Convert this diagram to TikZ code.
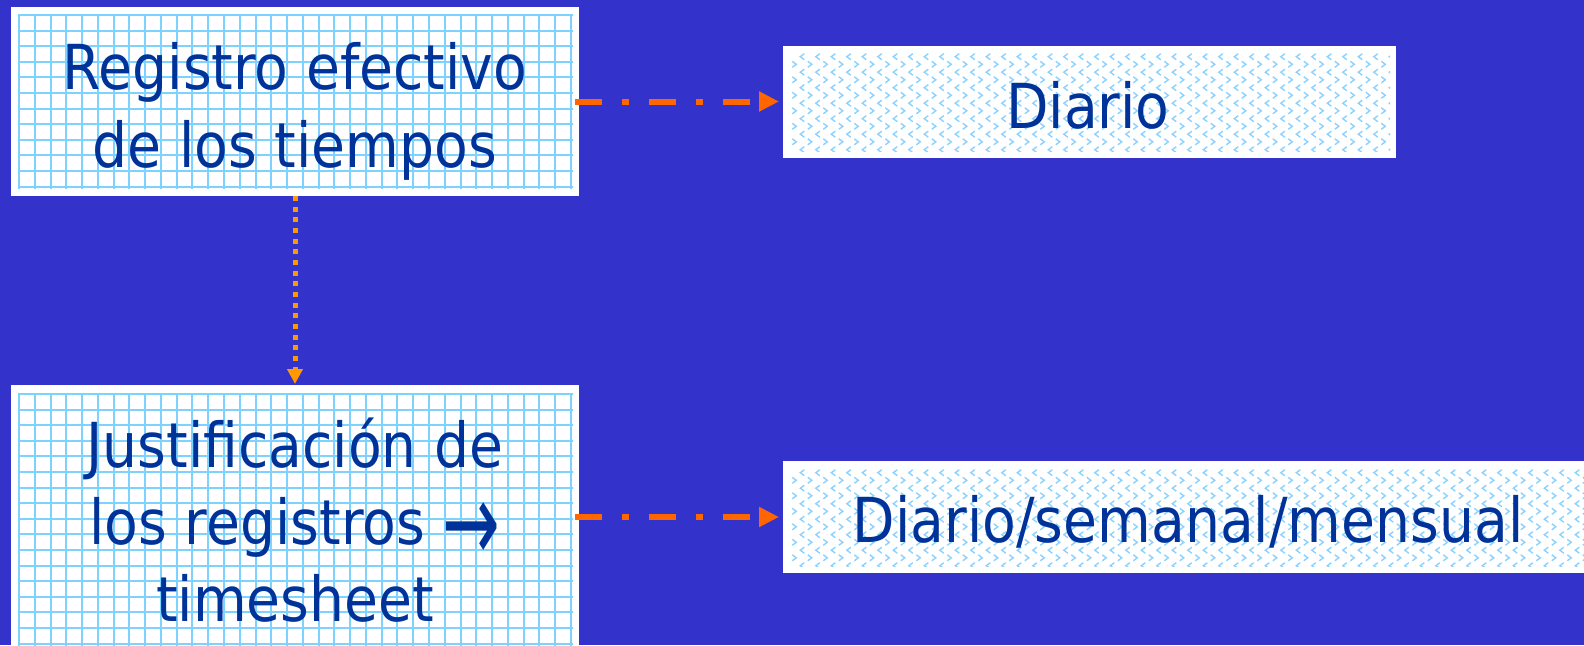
\documentclass[tikz,border=0pt]{standalone}
\usepackage{fontspec}
\setmainfont{DejaVu Sans}[FakeStretch=0.89]
\usetikzlibrary{arrows.meta}
\definecolor{bgblue}{RGB}{51,51,204}
\definecolor{txtblue}{RGB}{0,51,153}
\definecolor{gridc}{RGB}{125,210,255}
\definecolor{chevc}{RGB}{140,210,255}
\definecolor{arrowred}{RGB}{255,102,0}
\definecolor{arroworange}{RGB}{255,153,0}
\newcommand{\bigarrowglyph}{\raisebox{-17.3pt}[47pt][0pt]{\scalebox{1.25}[1.8]{→}}}
\begin{document}
\begin{tikzpicture}[x=1pt,y=-1pt,
  box/.style={fill=white, draw=none, inner sep=0pt, outer sep=0pt},
  txt/.style={text=txtblue, font=\fontsize{62}{78}\selectfont, align=center, inner sep=0pt, anchor=base},
  dashdot/.style={arrowred, line width=6pt, dash pattern=on 27pt off 20pt on 7pt off 20pt, -{Triangle[length=20pt,width=19pt]}},
  dotarrow/.style={arroworange, line width=5pt, dash pattern=on 5pt off 5.67pt, -{Triangle[length=15pt,width=15pt]}},
  gridline/.style={gridc, line width=2pt},
  chev/.style={chevc, line width=1.4pt}]
\useasboundingbox (0,0) rectangle (1584,645);
\fill[bgblue] (0,0) rectangle (1584,645);
% boxes
\node[box, minimum width=568pt, minimum height=189pt] (boxA) at (295,101.5) {};
\node[box, minimum width=613pt, minimum height=112pt] (boxB) at (1089.5,102) {};
\node[box, minimum width=568pt, minimum height=282pt] (boxC) at (295,526) {};
\node[box, minimum width=810pt, minimum height=112pt] (boxD) at (1188,517) {};
% grid in box A
\begin{scope}
\clip (18,14) rectangle (573,188);
\foreach \i in {0,...,35} \draw[gridline] ({19+15.77*\i},10) -- ({19+15.77*\i},190);
\foreach \j in {0,...,11} \draw[gridline] (15,{15+15.6*\j}) -- (575,{15+15.6*\j});
\end{scope}
% grid in box C
\begin{scope}
\clip (18,393) rectangle (573,650);
\foreach \i in {0,...,35} \draw[gridline] ({19+15.77*\i},390) -- ({19+15.77*\i},650);
\foreach \j in {0,...,16} \draw[gridline] (15,{394+15.6*\j}) -- (575,{394+15.6*\j});
\end{scope}
% chevrons in box B
\begin{scope}
\clip (790,52) rectangle (1390,151);
\draw[chev] \foreach \i in {0,...,39} {\foreach \j in {0,...,6} {
  ({804.3+15.5*\i},{53.7+15.5*\j}) -- ++(-4,3) -- ++(4,3)
  ({792.3+15.5*\i},{61.3+15.5*\j}) -- ++(4,3) -- ++(-4,3) }};
\end{scope}
% chevrons in box D
\begin{scope}
\clip (790,468) rectangle (1590,566);
\draw[chev] \foreach \i in {0,...,52} {\foreach \j in {0,...,6} {
  ({804.3+15.5*\i},{469.7+15.5*\j}) -- ++(-4,3) -- ++(4,3)
  ({792.3+15.5*\i},{477.3+15.5*\j}) -- ++(4,3) -- ++(-4,3) }};
\end{scope}
% texts (base anchor = baseline of last line)
\node[txt] (tA) at (295,167) {Registro efectivo\\de los tiempos};
\node[txt] (tB) at (1088,128) {Diario};
\node[txt, font=\fontsize{62}{77}\selectfont] (tC) at (295,621) {Justificación de\\los registros \bigarrowglyph\\timesheet};
\node[txt] (tD) at (1188,542) {Diario/semanal/mensual};
% connectors
\draw[dashdot, shorten <=-4pt, shorten >=4pt] (boxA.east) -- (boxA.east -| boxB.west);
\draw[dashdot, shorten <=-4pt, shorten >=4pt] (boxD.west -| boxC.east) -- (boxD.west);
\draw[dotarrow, shorten >=1pt] (boxA.south) -- (boxC.north);
\end{tikzpicture}
\end{document}
